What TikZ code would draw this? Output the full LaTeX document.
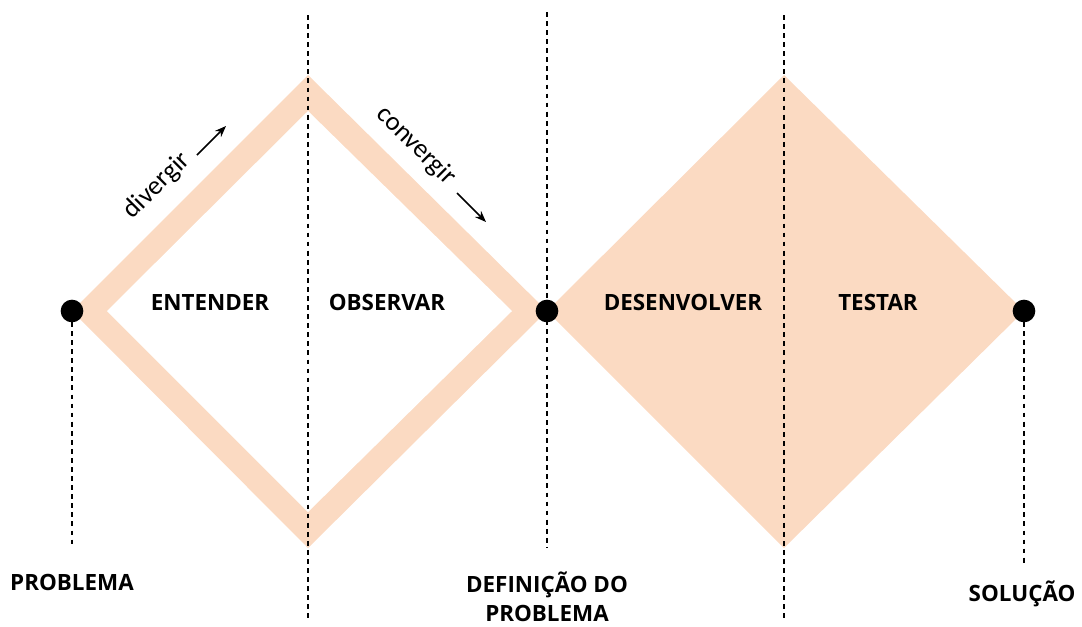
\documentclass[tikz,border=0pt]{standalone}
\usepackage{fontspec}
\setmainfont{Open Sans}
\newfontfamily\calfont{Carlito}
\usetikzlibrary{arrows.meta}
\definecolor{peach}{HTML}{FBDAC2}
\begin{document}
\begin{tikzpicture}[x=0.75pt,y=-0.75pt,
  guide/.style={draw=black, line width=1.1pt, dash pattern=on 3.6pt off 3.2pt},
  dot/.style={circle, fill=black, minimum size=17pt, inner sep=0pt},
  phase/.style={font=\bfseries\fontsize{16.8}{18}\selectfont},
  milestone/.style={font=\bfseries\fontsize{16.8}{21.75}\selectfont, align=center},
  hint/.style={font=\calfont\fontsize{20}{22}\selectfont},
  hintarrow/.style={-{Stealth[length=8.5pt,width=6.5pt]}, line width=1.1pt}]
\useasboundingbox (0,0) rectangle (1082,626);
% diamonds
\fill[peach] (72,311) -- (308,75) -- (547,311) -- (308,548) -- cycle;
\fill[white] (107,311) -- (308,111) -- (512,311) -- (308,512) -- cycle;
\fill[peach] (547,311) -- (784,75) -- (1024,311) -- (784,548) -- cycle;
% guide line ends
\coordinate (g1a) at (72,322);  \coordinate (g1b) at (72,548);
\coordinate (g2a) at (308,15);  \coordinate (g2b) at (308,620);
\coordinate (g3a) at (547,12);  \coordinate (g3b) at (547,548);
\coordinate (g4a) at (784,15);  \coordinate (g4b) at (784,620);
\coordinate (g5a) at (1024,322); \coordinate (g5b) at (1024,565);
\draw[guide] (g1a) -- (g1b);
\draw[guide] (g2a) -- (g2b);
\draw[guide] (g3a) -- (g3b);
\draw[guide] (g4a) -- (g4b);
\draw[guide] (g5a) -- (g5b);
% dots
\node[dot] (d1) at (72,311) {};
\node[dot] (d2) at (547,311) {};
\node[dot] (d3) at (1024,311) {};
% phase labels
\node[phase] (entender) at (210,302) {ENTENDER};
\node[phase] (observar) at (387,302) {OBSERVAR};
\node[phase] (desenv) at (683,302) {DESENVOLVER};
\node[phase] (testar) at (878,302) {TESTAR};
% milestones
\node[milestone] (problema) at (72,582) {PROBLEMA};
\node[milestone] (defin) at (547,597) {DEFINIÇÃO DO\\PROBLEMA};
\node[milestone] (solucao) at (1022,594) {SOLUÇÃO};
% hints
\node[hint, rotate=45] (div) at (157,186) {divergir};
\node[hint, rotate=-45] (conv) at (416,146) {convergir};
\coordinate (da) at (197,155); \coordinate (db) at (226,126);
\coordinate (ca) at (457,193); \coordinate (cb) at (486,222);
\draw[hintarrow] (da) -- (db);
\draw[hintarrow] (ca) -- (cb);
\end{tikzpicture}
\end{document}
